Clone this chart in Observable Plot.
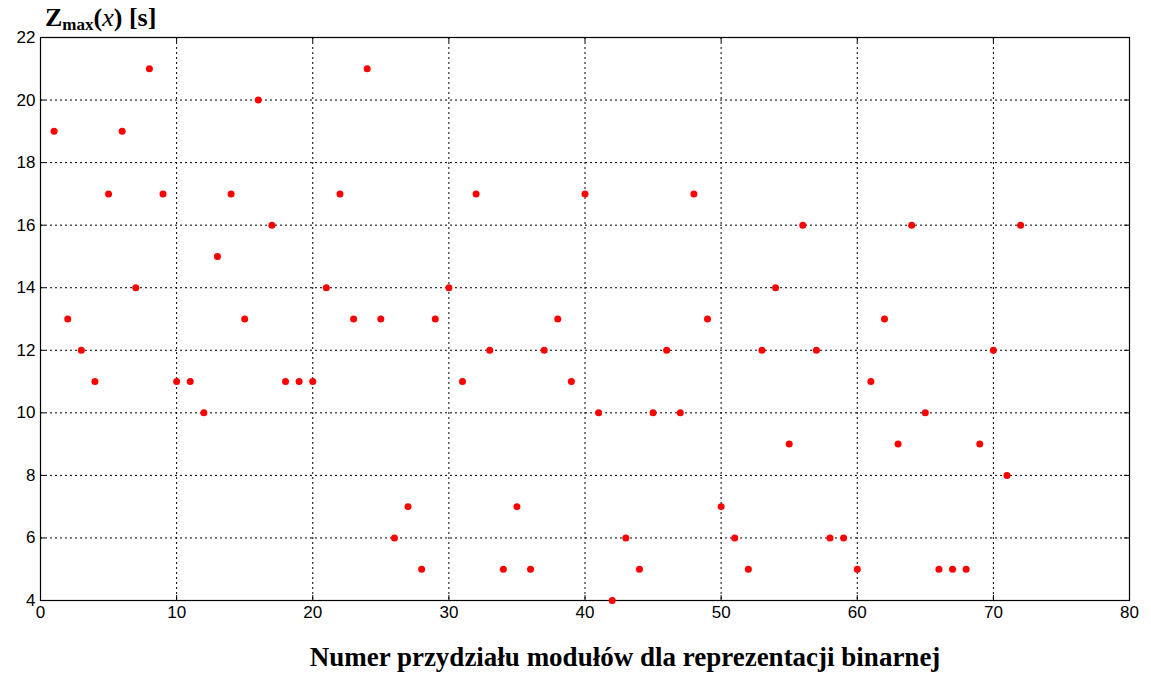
<!DOCTYPE html>
<html>
<head>
<meta charset="utf-8">
<script src="https://cdn.jsdelivr.net/npm/d3@7"></script>
<script src="https://cdn.jsdelivr.net/npm/@observablehq/plot@0.6"></script>
<style>
  html, body { margin: 0; padding: 0; background: #fff; }
  #wrap { position: relative; width: 1151px; height: 673px; }
  #ylab { position: absolute; left: 45px; top: 0px; font-family: "Liberation Serif", "Times New Roman", serif; font-weight: bold; font-size: 26px; line-height: 36px; color: #000; white-space: nowrap; }
  #ylab sub { font-size: 17px; vertical-align: -4px; }
  #ylab i { font-weight: normal; }
  #xlab { position: absolute; left: 625px; top: 641px; transform: translateX(-50%); font-family: "Liberation Serif", "Times New Roman", serif; font-weight: bold; font-size: 27px; line-height: 32px; color: #000; white-space: nowrap; }
</style>
</head>
<body>
<div id="wrap">
  <div id="chart"></div>
  <div id="ylab">Z<sub>max</sub>(<i>x</i>) [s]</div>
  <div id="xlab">Numer przydziału modułów dla reprezentacji binarnej</div>
</div>
<script>
const assignmentNo = [1,2,3,4,5,6,7,8,9,10,11,12,13,14,15,16,17,18,19,20,21,22,23,24,25,26,27,28,29,30,31,32,33,34,35,36,37,38,39,40,41,42,43,44,45,46,47,48,49,50,51,52,53,54,55,56,57,58,59,60,61,62,63,64,65,66,67,68,69,70,71,72];
const zmax = [19,13,12,11,17,19,14,21,17,11,11,10,15,17,13,20,16,11,11,11,14,17,13,21,13,6,7,5,13,14,11,17,12,5,7,5,12,13,11,17,10,4,6,5,10,12,10,17,13,7,6,5,12,14,9,16,12,6,6,5,11,13,9,16,10,5,5,5,9,12,8,16];
const xTicks = [0,10,20,30,40,50,60,70,80];
const yTicks = [4,6,8,10,12,14,16,18,20,22];

const data = assignmentNo.map((n, i) => ({n, z: zmax[i]}));

const W = 1151, H = 673, mL = 40, mR = 22, mT = 37, mB = 73;
const innerH = H - mT - mB, innerW = W - mL - mR;
const tick = 5;
const inner = xTicks.slice(1, -1);
const innerY = yTicks.slice(1, -1);

const chart = Plot.plot({
  width: W, height: H,
  marginLeft: mL, marginRight: mR, marginTop: mT, marginBottom: mB,
  style: { fontFamily: "'Liberation Sans', Arial, sans-serif", fontSize: "17px", color: "#000", background: "#fff" },
  x: { domain: [0, 80], ticks: xTicks, label: null },
  y: { domain: [4, 22], ticks: yTicks, label: null },
  marks: [
    Plot.ruleX(inner, { x: d => d, stroke: "#000", strokeWidth: 1, strokeDasharray: "2,3" }),
    Plot.ruleY(innerY, { y: d => d, stroke: "#000", strokeWidth: 1, strokeDasharray: "2,3" }),
    Plot.tickX(inner, { x: d => d, insetTop: innerH - tick, stroke: "#000" }),
    Plot.tickX(inner, { x: d => d, insetBottom: innerH - tick, stroke: "#000" }),
    Plot.tickY(innerY, { y: d => d, insetRight: innerW - tick, stroke: "#000" }),
    Plot.tickY(innerY, { y: d => d, insetLeft: innerW - tick, stroke: "#000" }),
    Plot.frame({ stroke: "#000", strokeWidth: 1.2 }),
    Plot.axisX({ ticks: xTicks, tickSize: 0, tickPadding: 5, label: null, fontSize: 17 }),
    Plot.axisY({ ticks: yTicks, tickSize: 0, tickPadding: 5, label: null, fontSize: 17 }),
    Plot.dot(data, { x: "n", y: "z", r: 3.5, fill: "#ff0000", stroke: "none" })
  ]
});
document.getElementById("chart").appendChild(chart);
</script>
</body>
</html>
